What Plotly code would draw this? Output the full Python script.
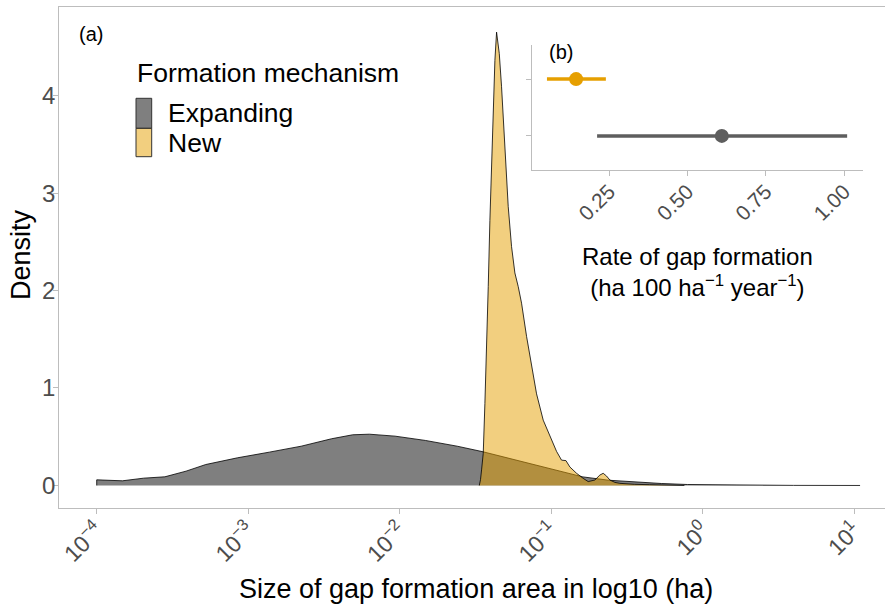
import numpy as np
import plotly.graph_objects as go

# ---------------- data ----------------
# Panel (a): density of gap-formation size (x = log10 ha)
expanding_log10_size = [-4.0, -3.83, -3.69, -3.55, -3.41, -3.28, -3.07, -2.86, -2.65, -2.45,
                        -2.31, -2.2, -2.03, -1.83, -1.62, -1.45, -1.27, -1.14, -0.96, -0.79,
                        -0.62, -0.45, -0.27, -0.1, 0.25, 0.6, 1.04]
expanding_density = [0.058, 0.048, 0.075, 0.089, 0.147, 0.215, 0.284, 0.342, 0.403, 0.479,
                     0.52, 0.526, 0.506, 0.462, 0.403, 0.346, 0.277, 0.223, 0.157, 0.088,
                     0.054, 0.034, 0.02, 0.01, 0.003, 0.001, 0.0]

new_log10_size = [-1.474, -1.466, -1.459, -1.448, -1.437, -1.426, -1.415, -1.404, -1.393, -1.382,
                  -1.371, -1.36, -1.349, -1.342, -1.327, -1.305, -1.283, -1.261, -1.239, -1.217,
                  -1.195, -1.162, -1.129, -1.096, -1.052, -1.008, -0.964, -0.931, -0.902, -0.876,
                  -0.832, -0.788, -0.755, -0.711, -0.678, -0.656, -0.634, -0.612, -0.579, -0.546,
                  -0.502, -0.45, -0.35, -0.25, -0.12]
new_density = [0.0, 0.06, 0.16, 0.33, 0.84, 1.36, 2.04, 2.72, 3.34, 3.92,
               4.36, 4.65, 4.50, 4.43, 4.09, 3.41, 2.86, 2.45, 2.18, 2.04,
               1.87, 1.53, 1.22, 0.94, 0.67, 0.50, 0.35, 0.26, 0.255, 0.19,
               0.125, 0.073, 0.04, 0.056, 0.107, 0.125, 0.097, 0.056, 0.032, 0.022,
               0.015, 0.012, 0.008, 0.005, 0.0]

x_tick_vals = [1e-4, 1e-3, 1e-2, 1e-1, 1e0, 1e1]
x_tick_text = ["10<sup>−4</sup>", "10<sup>−3</sup>", "10<sup>−2</sup>",
               "10<sup>−1</sup>", "10<sup>0</sup>", "10<sup>1</sup>"]
y_tick_vals = [0, 1, 2, 3, 4]

# Panel (b): rate of gap formation (estimate with interval)
mechanisms = ["Expanding", "New"]
rate_estimate = [0.61, 0.145]
rate_lower = [0.212, 0.052]
rate_upper = [1.01, 0.24]
inset_tick_vals = [0.25, 0.50, 0.75, 1.00]
inset_tick_text = ["0.25", "0.50", "0.75", "1.00"]

# ---------------- style ----------------
FONT = "Liberation Sans, Arial, sans-serif"
GRAY_FILL = "#7F7F7F"
ORANGE_FILL = "rgba(230,159,0,0.5)"
GRAY_PT = "#5E5E5E"
ORANGE_PT = "#E69F00"
AXIS_COL = "#BDBDBD"
TICKLAB_COL = "#4D4D4D"

W, H = 885, 604
ML, MR, MT, MB = 59, 0, 7, 96
PW, PH = W - ML - MR, H - MT - MB


def px(x):
    return (x - ML) / PW


def py(y):
    return (H - MB - y) / PH


fig = go.Figure()

# density polygons (closed to baseline)
for xs, ds, fc, name in [(expanding_log10_size, expanding_density, GRAY_FILL, "Expanding"),
                         (new_log10_size, new_density, ORANGE_FILL, "New")]:
    xv = 10 ** np.array([xs[0]] + list(xs) + [xs[-1]])
    yv = [0] + list(ds) + [0]
    fig.add_trace(go.Scatter(x=xv, y=yv, mode="lines", fill="toself", fillcolor=fc,
                             line=dict(color="black", width=0.8), name=name,
                             showlegend=False, hoverinfo="skip", xaxis="x", yaxis="y"))

# inset point-ranges
for i, (m, est, lo, hi, col) in enumerate(zip(mechanisms, rate_estimate, rate_lower, rate_upper,
                                                [GRAY_PT, ORANGE_PT])):
    fig.add_trace(go.Scatter(
        x=[est], y=[i + 1], mode="markers",
        marker=dict(size=14, color=col),
        error_x=dict(type="data", symmetric=False, array=[hi - est], arrayminus=[est - lo],
                     thickness=3.5, width=0, color=col),
        showlegend=False, xaxis="x2", yaxis="y2", name=m))

fig.update_layout(
    width=W, height=H,
    margin=dict(l=ML, r=MR, t=MT, b=MB, autoexpand=False),
    paper_bgcolor="white", plot_bgcolor="white",
    font=dict(family=FONT, color="black"),
    xaxis=dict(type="log", range=[-4.249, 1.2046], tickvals=x_tick_vals, ticktext=x_tick_text,
               tickangle=-45, ticks="outside", ticklen=5, tickcolor=AXIS_COL,
               ticklabelstandoff=-6,
               tickfont=dict(size=23, color=TICKLAB_COL, family=FONT),
               showline=True, linecolor=AXIS_COL, linewidth=1, mirror=True,
               showgrid=False, zeroline=False, domain=[0, 1], automargin=False),
    yaxis=dict(range=[-0.231, 4.908], tickvals=y_tick_vals, ticks="outside", ticklen=5,
               tickcolor=AXIS_COL, showticklabels=False,
               showline=True, linecolor=AXIS_COL, linewidth=1, mirror=False,
               showgrid=False, zeroline=False, domain=[0, 1], automargin=False),
    xaxis2=dict(range=[0.0033, 1.0606], tickvals=inset_tick_vals, ticktext=inset_tick_text,
                tickangle=-45, ticks="outside", ticklen=5, tickcolor=AXIS_COL,
                ticklabelstandoff=-5,
                tickfont=dict(size=21, color=TICKLAB_COL, family=FONT),
                showline=True, linecolor=AXIS_COL, linewidth=1, showgrid=False,
                zeroline=False, anchor="y2", domain=[px(531.7), px(863)], automargin=False),
    yaxis2=dict(range=[0.4, 2.6], tickvals=[1, 2], showticklabels=False, ticks="outside",
                ticklen=5, tickcolor=AXIS_COL, showline=True, linecolor=AXIS_COL, linewidth=1,
                showgrid=False, zeroline=False, anchor="x2", domain=[py(170), py(45)],
                automargin=False),
    showlegend=False,
)

ann = []
# y tick labels (placed on the y data scale, right-aligned next to the ticks)
for v in y_tick_vals:
    ann.append(dict(text=str(v), x=px(56.5), y=v, xref="paper", yref="y",
                    xanchor="right", yanchor="middle", showarrow=False,
                    font=dict(size=24, family=FONT, color=TICKLAB_COL)))
# axis titles
ann.append(dict(text="Size of gap formation area in log10 (ha)", x=px(476), y=py(589),
                xref="paper", yref="paper", xanchor="center", yanchor="middle",
                showarrow=False, font=dict(size=27, family=FONT, color="black")))
ann.append(dict(text="Density", x=px(21), y=py(255), xref="paper", yref="paper",
                xanchor="center", yanchor="middle", textangle=-90, showarrow=False,
                font=dict(size=27, family=FONT, color="black")))
# panel tags
ann.append(dict(text="(a)", x=px(76.5), y=py(34), xref="paper", yref="paper",
                xanchor="left", yanchor="middle", showarrow=False,
                font=dict(size=20, family=FONT, color="black")))
ann.append(dict(text="(b)", x=px(546.5), y=py(52), xref="paper", yref="paper",
                xanchor="left", yanchor="middle", showarrow=False,
                font=dict(size=20, family=FONT, color="black")))
# inset title
ann.append(dict(text="Rate of gap formation<br>(ha 100 ha<sup>−1</sup> year<sup>−1</sup>)",
                x=px(697), y=py(272), xref="paper", yref="paper", xanchor="center",
                yanchor="middle", showarrow=False, align="center",
                font=dict(size=24, family=FONT, color="black")))
# legend
ann.append(dict(text="Formation mechanism", x=px(135), y=py(73), xref="paper", yref="paper",
                xanchor="left", yanchor="middle", showarrow=False,
                font=dict(size=26.5, family=FONT, color="black")))
ann.append(dict(text="Expanding", x=px(166), y=py(113), xref="paper", yref="paper",
                xanchor="left", yanchor="middle", showarrow=False,
                font=dict(size=26.5, family=FONT, color="black")))
ann.append(dict(text="New", x=px(166), y=py(142.5), xref="paper", yref="paper",
                xanchor="left", yanchor="middle", showarrow=False,
                font=dict(size=26.5, family=FONT, color="black")))
fig.update_layout(annotations=ann)

shapes = [
    dict(type="rect", xref="paper", yref="paper", x0=px(136), x1=px(151.7),
         y0=py(128.3), y1=py(98.3), fillcolor=GRAY_FILL, line=dict(color="#333333", width=1)),
    dict(type="rect", xref="paper", yref="paper", x0=px(136), x1=px(151.7),
         y0=py(156.7), y1=py(128.3), fillcolor=ORANGE_FILL, line=dict(color="#333333", width=1)),
]
fig.update_layout(shapes=shapes)

fig.write_html("out.html", config={"displayModeBar": False},
               post_script="document.body.style.margin='0';document.body.style.padding='0';")
